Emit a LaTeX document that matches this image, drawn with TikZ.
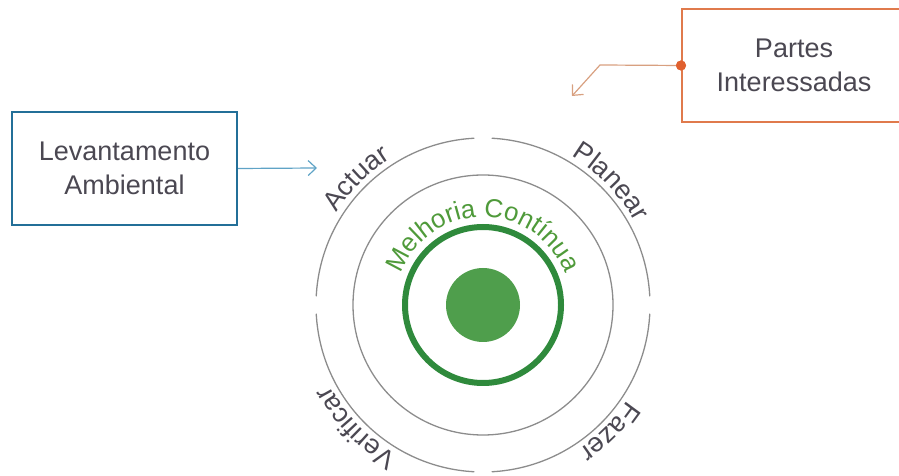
\documentclass[tikz,border=0pt]{standalone}
\usepackage{fontspec}
\setmainfont{Liberation Sans}
\usetikzlibrary{decorations.text,arrows.meta}

\definecolor{inkgray}{HTML}{4B4852}
\definecolor{ringgray}{HTML}{8C8C8C}
\definecolor{ringgreen}{HTML}{2F8A3C}
\definecolor{coregreen}{HTML}{4F9E4C}
\definecolor{textgreen}{HTML}{4F9A3A}
\definecolor{boxblue}{HTML}{236F98}
\definecolor{lineblue}{HTML}{5FA3C6}
\definecolor{boxorange}{HTML}{E07A4C}
\definecolor{dotorange}{HTML}{E0602E}
\definecolor{lineorange}{HTML}{D8A080}

\newcommand\cyclefont{\fontsize{27}{30}\selectfont}
\newcommand\centrefont{\fontsize{26}{30}\selectfont}

\tikzset{
  ringline/.style={draw=ringgray, line width=1.3pt},
  infobox/.style={draw, line width=2pt, fill=white, text=inkgray, align=center,
    font=\fontsize{27}{34}\selectfont, minimum height=113pt, inner sep=0pt},
  feedarrow/.style={line width=1.2pt, -{Straight Barb[length=8pt,width=15pt,line width=1.2pt]}},
  % text set along an arc, clockwise, letters standing outward
  arclabel/.style 2 args={decorate, decoration={text along path, text align=center,
    text color=#1, text={#2}}}
}

\begin{document}
\begin{tikzpicture}[x=1pt,y=1pt]
\useasboundingbox (0,0) rectangle (899,476);

\coordinate (c) at (483,171);

% outer ring: four quarter arcs separated by small gaps
\foreach \a in {0,90,180,270}
  \draw[ringline] (c) ++(\a+3:167) arc[start angle=\a+3, end angle=\a+87, radius=167];

% inner grey ring, green ring and core
\draw[ringline] (c) circle[radius=130];
\draw[ringgreen, line width=6pt] (c) circle[radius=78];
\node[circle, fill=coregreen, minimum size=74pt, inner sep=0pt] (core) at (c) {};

% cycle stage labels
\path[arclabel={inkgray}{|\cyclefont|Actuar}]
  (c) ++(170:173) arc[start angle=170, end angle=100, radius=173];
\path[arclabel={inkgray}{|\cyclefont|Planear}]
  (c) ++(80:173) arc[start angle=80, end angle=8, radius=173];
\path[arclabel={inkgray}{|\cyclefont|Fazer}]
  (c) ++(-10:173) arc[start angle=-10, end angle=-80, radius=173];
\path[arclabel={inkgray}{|\cyclefont|Verificar}]
  (c) ++(-98:173) arc[start angle=-98, end angle=-174, radius=173];

\path[arclabel={textgreen}{|\centrefont|Melhoria Contínua}]
  (c) ++(185:88) arc[start angle=185, end angle=-5, radius=88];

% input boxes
\node[infobox, draw=boxblue, minimum width=225pt] (lev) at (124.5,307.5) {Levantamento\\Ambiental};
\node[infobox, draw=boxorange, minimum width=224pt] (partes) at (794,410.5) {Partes\\Interessadas};

\coordinate (actuartip) at (317,308);
\draw[feedarrow, lineblue] (lev.east) -- (actuartip);

\coordinate (bend) at (600,411);
\coordinate (planeartip) at (572,380);
\node[circle, fill=dotorange, minimum size=10pt, inner sep=0pt] (dot) at (partes.west) {};
\draw[feedarrow, lineorange] (dot) -- (bend) -- (planeartip);
\node[circle, fill=dotorange, minimum size=10pt, inner sep=0pt] at (dot) {};
\end{tikzpicture}
\end{document}
